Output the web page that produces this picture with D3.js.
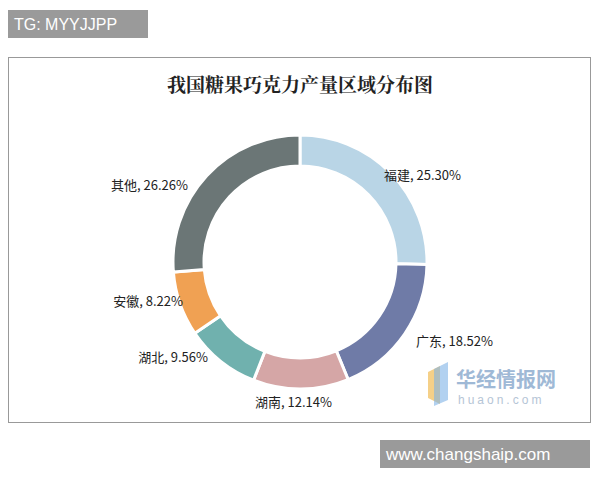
<!DOCTYPE html><html><head><meta charset="utf-8"><script src="https://cdn.jsdelivr.net/npm/d3@7"></script>
<style>body{margin:0;background:#fff}</style></head><body><svg id="c" width="600" height="480"></svg>
<script>
const categories=["福建","广东","湖南","湖北","安徽","其他"];
const values=[25.30,18.52,12.14,9.56,8.22,26.26];
const colors=["#b9d5e6","#6f7ba7","#d5a6a6","#70b1ae","#f0a153","#6b7676"];
const svg=d3.select("#c");
const F="'Noto Sans CJK SC',sans-serif";
svg.append("rect").attr("x",8).attr("y",10).attr("width",140).attr("height",28).attr("fill","#9a9a9a");
svg.append("text").attr("x",14).attr("y",30).attr("fill","#fff").attr("font-size",16).attr("font-family","Arial,sans-serif").text("TG: MYYJJPP");
svg.append("rect").attr("x",8.5).attr("y",57.5).attr("width",582).attr("height",365).attr("fill","none").attr("stroke","#999");
svg.append("text").attr("x",300).attr("y",92).attr("text-anchor","middle").attr("font-size",19).attr("font-weight","bold").attr("font-family","'Noto Serif CJK SC','Noto Sans CJK SC',serif").attr("fill","#222").text("我国糖果巧克力产量区域分布图");
const cx=300,cy=262,R=127,r=96;
const pie=d3.pie().sort(null).value(d=>d)(values);
const arc=d3.arc().innerRadius(r).outerRadius(R);
const g=svg.append("g").attr("transform",`translate(${cx},${cy})`);
g.selectAll("path").data(pie).enter().append("path").attr("d",arc).attr("fill",(d,i)=>colors[i]).attr("stroke","#fff").attr("stroke-width",3);
const lab=[[384,180,"start"],[416,346,"start"],[255,407,"start"],[208,362,"end"],[183,306,"end"],[188,190,"end"]];
lab.forEach((p,i)=>svg.append("text").attr("x",p[0]).attr("y",p[1]).attr("text-anchor",p[2]).attr("font-size",13).attr("font-family",F).attr("fill","#222").text(categories[i]+", "+values[i].toFixed(2)+"%"));
// watermark
svg.append("path").attr("d","M428,372 L440,366 L440,404 L428,398Z").attr("fill","#f3c46a").attr("opacity",0.8);
svg.append("path").attr("d","M434,369 L448,362 L448,400 L434,406Z").attr("fill","#7fb3e6").attr("opacity",0.6);
svg.append("text").attr("x",456).attr("y",387).attr("font-size",20).attr("font-weight","bold").attr("font-family",F).attr("fill","#9fb9d6").text("华经情报网");
svg.append("text").attr("x",458).attr("y",404).attr("font-size",12).attr("letter-spacing",3).attr("font-family","Arial").attr("fill","#b5c5d6").text("huaon.com");
svg.append("rect").attr("x",380).attr("y",440).attr("width",210).attr("height",28).attr("fill","#9a9a9a");
svg.append("text").attr("x",386).attr("y",460).attr("fill","#fff").attr("font-size",17).attr("font-family","Arial,sans-serif").text("www.changshaip.com");
</script></body></html>
